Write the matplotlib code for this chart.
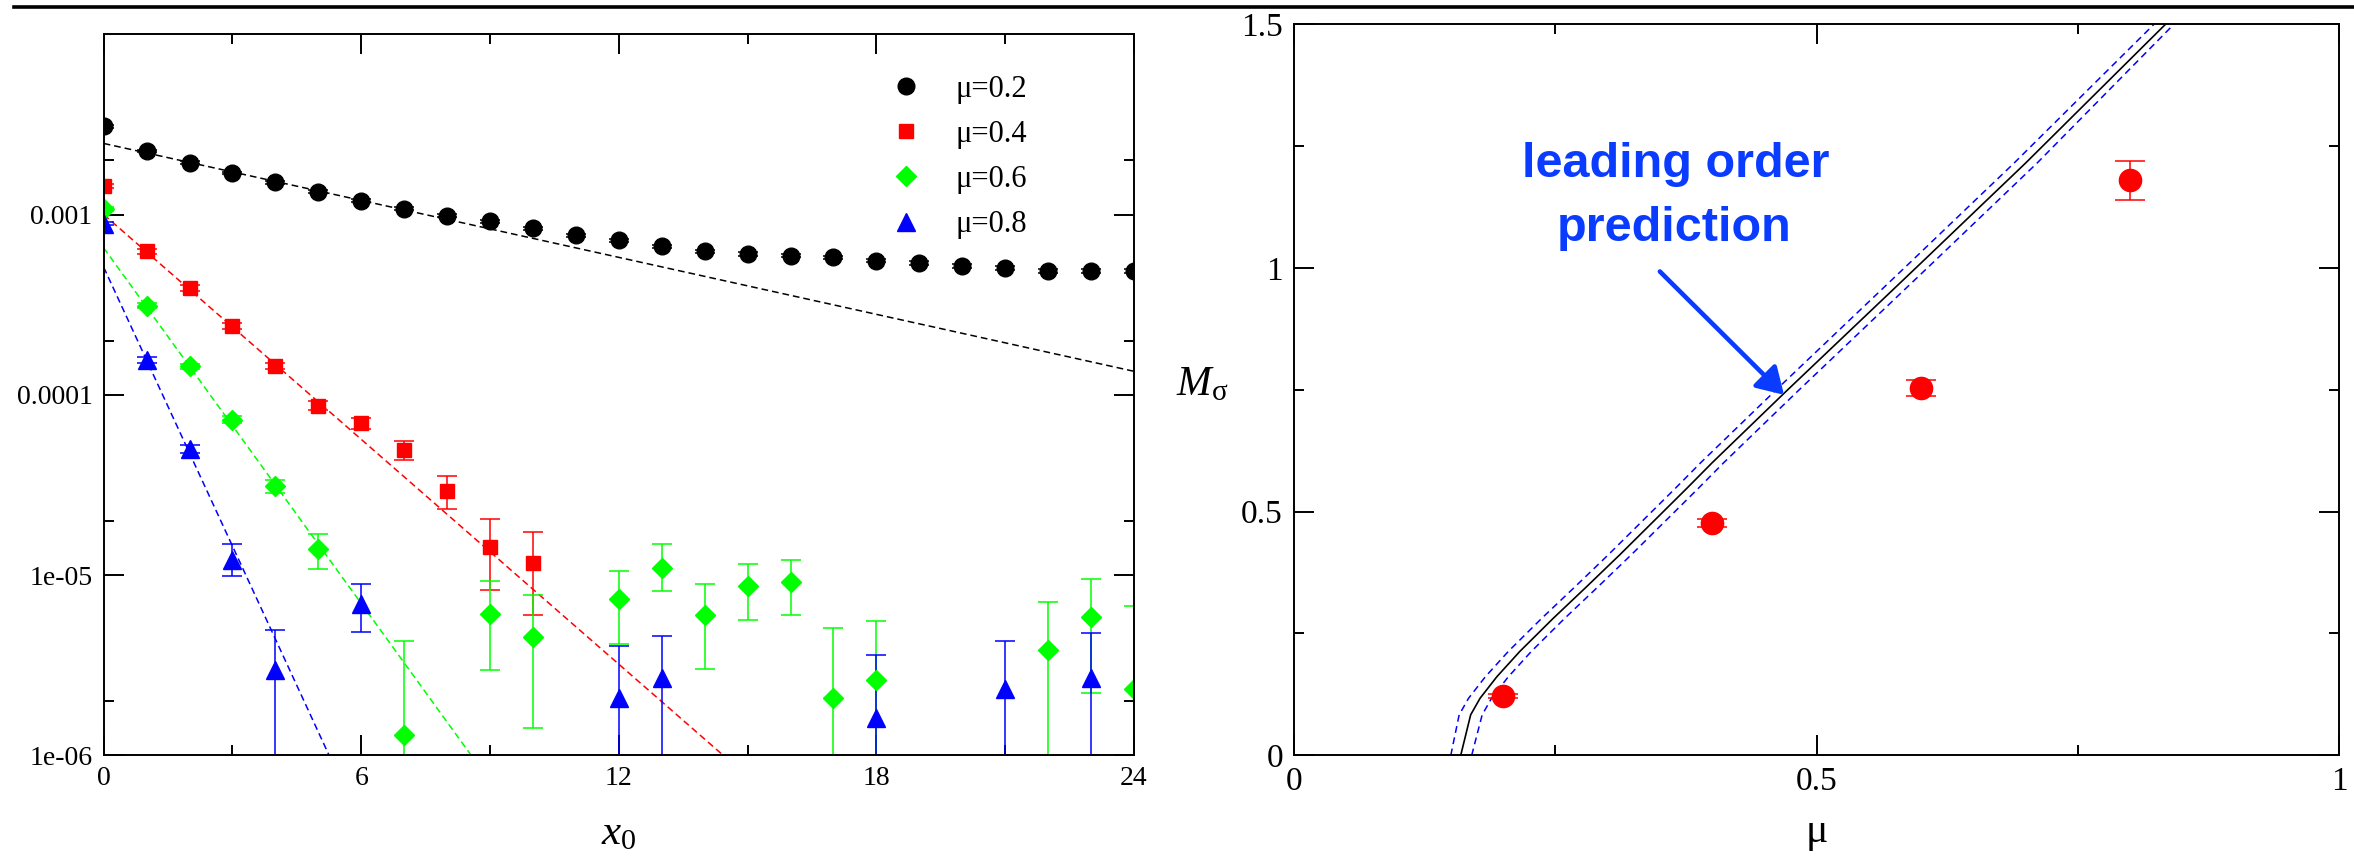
import matplotlib
matplotlib.use('Agg')
import matplotlib.pyplot as plt
from matplotlib.lines import Line2D
from matplotlib.ticker import FixedLocator, FixedFormatter

plt.rcParams['font.family'] = ['Liberation Serif', 'DejaVu Serif']
plt.rcParams['mathtext.fontset'] = 'custom'
plt.rcParams['mathtext.rm'] = 'Liberation Serif'
plt.rcParams['mathtext.it'] = 'Liberation Serif:italic'

# ---- left panel: correlators vs x0 ----
x_mu02 = list(range(25))
c_mu02 = [3.09e-3, 2.25e-3, 1.94e-3, 1.70e-3, 1.51e-3, 1.34e-3, 1.196e-3, 1.075e-3,
          0.987e-3, 0.918e-3, 0.84e-3, 0.768e-3, 0.72e-3, 0.667e-3, 0.625e-3, 0.605e-3,
          0.592e-3, 0.579e-3, 0.555e-3, 0.539e-3, 0.521e-3, 0.506e-3, 0.484e-3, 0.484e-3,
          0.484e-3]
e_mu02 = [0.05e-3, 0.04e-3, 0.035e-3, 0.03e-3, 0.03e-3, 0.025e-3, 0.022e-3, 0.02e-3,
          0.02e-3, 0.018e-3, 0.017e-3, 0.016e-3, 0.015e-3, 0.015e-3, 0.014e-3, 0.014e-3,
          0.014e-3, 0.013e-3, 0.013e-3, 0.013e-3, 0.013e-3, 0.013e-3, 0.013e-3, 0.013e-3,
          0.013e-3]

x_mu04 = list(range(11))
c_mu04 = [1.44e-3, 6.25e-4, 3.91e-4, 2.42e-4, 1.45e-4, 8.69e-5, 6.96e-5, 4.91e-5,
          2.94e-5, 1.44e-5, 1.16e-5]
lo_mu04 = [1.40e-3, 6.05e-4, 3.78e-4, 2.33e-4, 1.39e-4, 8.2e-5, 6.5e-5, 4.36e-5,
           2.33e-5, 8.26e-6, 6.0e-6]
hi_mu04 = [1.48e-3, 6.45e-4, 4.04e-4, 2.51e-4, 1.51e-4, 9.2e-5, 7.4e-5, 5.54e-5,
           3.55e-5, 2.05e-5, 1.74e-5]

x_mu06 = [0, 1, 2, 3, 4, 5, 7, 9, 10, 12, 13, 14, 15, 16, 17, 18, 22, 23, 24]
c_mu06 = [1.075e-3, 3.12e-4, 1.44e-4, 7.26e-5, 3.1e-5, 1.39e-5, 1.29e-6, 6.07e-6,
          4.54e-6, 7.33e-6, 1.10e-5, 6.0e-6, 8.73e-6, 9.11e-6, 2.08e-6, 2.63e-6,
          3.83e-6, 5.87e-6, 2.34e-6]
lo_mu06 = [1.05e-3, 3.02e-4, 1.39e-4, 6.95e-5, 2.84e-5, 1.08e-5, 0, 2.97e-6,
           1.42e-6, 4.15e-6, 8.14e-6, 3.03e-6, 5.62e-6, 5.99e-6, 0, 0,
           0, 2.21e-6, 0]
hi_mu06 = [1.10e-3, 3.22e-4, 1.49e-4, 7.6e-5, 3.37e-5, 1.70e-5, 4.31e-6, 9.27e-6,
           7.75e-6, 1.05e-5, 1.48e-5, 8.96e-6, 1.15e-5, 1.21e-5, 5.11e-6, 5.57e-6,
           7.11e-6, 9.53e-6, 6.76e-6]

x_mu08 = [0, 1, 2, 3, 4, 6, 12, 13, 18, 21, 23]
c_mu08 = [8.91e-4, 1.56e-4, 5.01e-5, 1.21e-5, 2.97e-6, 6.9e-6, 2.08e-6, 2.67e-6,
          1.62e-6, 2.34e-6, 2.67e-6]
lo_mu08 = [8.7e-4, 1.50e-4, 4.75e-5, 9.9e-6, 0, 4.84e-6, 0, 0, 0, 0, 0]
hi_mu08 = [9.1e-4, 1.62e-4, 5.25e-5, 1.48e-5, 4.94e-6, 8.91e-6, 4.03e-6, 4.6e-6,
           3.58e-6, 4.31e-6, 4.78e-6]

# exponential fits (straight on the log axis): end points
fit_x_mu02, fit_c_mu02 = [0, 24], [2.48e-3, 1.35e-4]
fit_x_mu04, fit_c_mu04 = [0, 14.43], [1.0e-3, 1.0e-6]
fit_x_mu06, fit_c_mu06 = [0, 8.56], [6.53e-4, 1.0e-6]
fit_x_mu08, fit_c_mu08 = [0, 5.25], [5.1e-4, 1.0e-6]

# ---- right panel: M_sigma vs mu ----
mu_pts = [0.2, 0.4, 0.6, 0.8]
msig_pts = [0.122, 0.476, 0.753, 1.18]
msig_err = [0.004, 0.008, 0.017, 0.04]

pred_m = [0.0, 0.083, 0.117, 0.161, 0.213, 0.281, 0.346, 0.412, 0.480, 0.548,
          0.600, 0.745, 1.010, 1.215, 1.500]
pred_mu = [0.1595, 0.169, 0.178, 0.194, 0.216, 0.248, 0.280, 0.312, 0.344, 0.376,
           0.400, 0.470, 0.600, 0.700, 0.834]
pred_mu_lo = [0.150, 0.158, 0.167, 0.183, 0.205, 0.237, 0.269, 0.301, 0.333, 0.365,
              0.389, 0.459, 0.589, 0.689, 0.823]
pred_mu_hi = [0.170, 0.180, 0.189, 0.205, 0.227, 0.259, 0.291, 0.323, 0.355, 0.387,
              0.411, 0.481, 0.611, 0.711, 0.842]

W, H = 2354, 858
fig = plt.figure(figsize=(W / 100, H / 100), dpi=100)

ax1 = fig.add_axes([103.7 / W, 1 - 755.3 / H, (1134 - 103.7) / W, (755.3 - 34.3) / H])
ax2 = fig.add_axes([1294 / W, 1 - 755.3 / H, (2339.3 - 1294) / W, (755.3 - 24) / H])

# rule across the top of the page
fig.add_artist(Line2D([14 / W, 1.0], [1 - 7 / H, 1 - 7 / H], color='black', lw=2.6))

ebkw = dict(linestyle='none', elinewidth=1.1, capthick=1.1, capsize=7.2)
dash = (4.4, 2.6)

ax1.plot(fit_x_mu02, fit_c_mu02, color='black', lw=1.1, dashes=dash, zorder=2)
ax1.plot(fit_x_mu04, fit_c_mu04, color='red', lw=1.1, dashes=dash, zorder=2)
ax1.plot(fit_x_mu06, fit_c_mu06, color='#00ff00', lw=1.1, dashes=dash, zorder=2)
ax1.plot(fit_x_mu08, fit_c_mu08, color='blue', lw=1.1, dashes=dash, zorder=2)


def bounds(c, lo, hi):
    return [[v - l for v, l in zip(c, lo)], [h - v for v, h in zip(c, hi)]]


eb1 = ax1.errorbar(x_mu02, c_mu02, yerr=e_mu02, marker='o', ms=12, color='black', **ebkw)
eb2 = ax1.errorbar(x_mu04, c_mu04, yerr=bounds(c_mu04, lo_mu04, hi_mu04), marker='s',
                   ms=10.5, color='red', **ebkw)
eb3 = ax1.errorbar(x_mu06, c_mu06, yerr=bounds(c_mu06, lo_mu06, hi_mu06), marker='D',
                   ms=10.5, color='#00ff00', **ebkw)
eb4 = ax1.errorbar(x_mu08, c_mu08, yerr=bounds(c_mu08, lo_mu08, hi_mu08), marker='^',
                   ms=13, color='blue', **ebkw)

ax1.set_yscale('log')
ax1.set_xlim(0, 24)
ax1.set_ylim(1e-6, 1e-2)
ax1.xaxis.set_major_locator(FixedLocator([0, 6, 12, 18, 24]))
ax1.xaxis.set_minor_locator(FixedLocator([3, 9, 15, 21]))
ax1.yaxis.set_major_locator(FixedLocator([1e-6, 1e-5, 1e-4, 1e-3]))
ax1.yaxis.set_major_formatter(FixedFormatter(['1e-06', '1e-05', '0.0001', '0.001']))
ax1.yaxis.set_minor_locator(FixedLocator([2e-6, 2e-5, 2e-4, 2e-3]))
ax1.tick_params(axis='y', which='minor', labelleft=False)

leg = ax1.legend([eb1.lines[0], eb2.lines[0], eb3.lines[0], eb4.lines[0]],
                 ['μ=0.2', 'μ=0.4', 'μ=0.6', 'μ=0.8'],
                 loc='upper left', bbox_to_anchor=(0.764, 0.944), frameon=False,
                 fontsize=22, handlelength=1.0, handletextpad=1.1, labelspacing=0.53,
                 borderpad=0, borderaxespad=0, numpoints=1)

ax1.set_xlabel(r'$x_{\mathit{0}}$', fontsize=31, va='top')
ax1.xaxis.set_label_coords(0.5, -0.083)

# right panel
ax2.plot(pred_mu, pred_m, color='black', lw=1.2)
ax2.plot(pred_mu_lo, pred_m, color='blue', lw=1.1, dashes=(4.5, 3))
ax2.plot(pred_mu_hi, pred_m, color='blue', lw=1.1, dashes=(4.5, 3))
ax2.errorbar(mu_pts, msig_pts, yerr=msig_err, marker='o', ms=16, color='red',
             linestyle='none', elinewidth=1.1, capthick=1.1, capsize=10.8)

ax2.set_xlim(0, 1)
ax2.set_ylim(0, 1.5)
ax2.xaxis.set_major_locator(FixedLocator([0, 0.5, 1]))
ax2.xaxis.set_major_formatter(FixedFormatter(['0', '0.5', '1']))
ax2.xaxis.set_minor_locator(FixedLocator([0.25, 0.75]))
ax2.yaxis.set_major_locator(FixedLocator([0, 0.5, 1, 1.5]))
ax2.yaxis.set_major_formatter(FixedFormatter(['0', '0.5', '1', '1.5']))
ax2.yaxis.set_minor_locator(FixedLocator([0.25, 0.75, 1.25]))

blue_txt = '#0a3cff'
ax2.text(0.365, 1.187, 'leading order', ha='center', va='baseline', fontsize=35,
         fontweight='bold', color=blue_txt, family=['Liberation Sans', 'DejaVu Sans'])
ax2.text(0.3635, 1.055, 'prediction', ha='center', va='baseline', fontsize=35,
         fontweight='bold', color=blue_txt, family=['Liberation Sans', 'DejaVu Sans'])
ax2.annotate('', xy=(0.4688, 0.7394), xytext=(0.350, 0.9924),
             arrowprops=dict(arrowstyle='-|>,head_length=1.6,head_width=0.97',
                             mutation_scale=10, lw=3.3, color=blue_txt,
                             shrinkA=0, shrinkB=0))

ax2.set_xlabel('μ', fontsize=30, va='top')
ax2.xaxis.set_label_coords(0.5, -0.078)
ax2.set_ylabel(r'$M_{\mathrm{\sigma}}$', fontsize=30, rotation=0, ha='center', va='center')
ax2.yaxis.set_label_coords(-0.088, 0.506)

for ax, fs in ((ax1, 20), (ax2, 24)):
    for s in ax.spines.values():
        s.set_linewidth(1.4)
    ax.tick_params(which='both', direction='in', top=True, right=True, width=1.4)
    ax.tick_params(which='major', length=14.4, labelsize=fs, pad=8)
    ax.tick_params(which='minor', length=7.2)

fig.savefig('out.png', dpi=100)
